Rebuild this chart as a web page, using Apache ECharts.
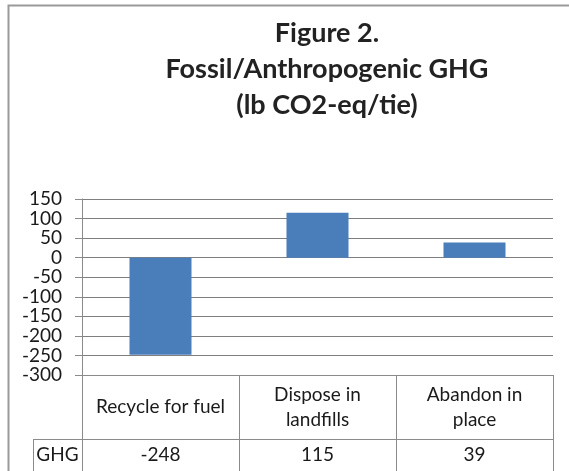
<!DOCTYPE html>
<html>
<head>
<meta charset="utf-8">
<script src="https://cdn.jsdelivr.net/npm/echarts@6/dist/echarts.min.js"></script>
<style>
html,body{margin:0;padding:0;background:#fff;}
#c{width:569px;height:471px;}
</style>
</head>
<body>
<div id="c"></div>
<script>
var titleLines = ['Figure 2.', 'Fossil/Anthropogenic GHG', '(lb CO2-eq/tie)'];
var categories = ['Recycle for fuel', 'Dispose in\nlandfills', 'Abandon in\nplace'];
var seriesName = 'GHG';
var values = [-248, 115, 39];
var yTicks = [-300, -250, -200, -150, -100, -50, 0, 50, 100, 150];

var FONT = 'Lato, "Open Sans", sans-serif';
var TXT = '#1a1a1a';
var LINE = '#8a8a8a';

var chart = echarts.init(document.getElementById('c'), null, {renderer: 'canvas'});
var gridLeft = 82, gridRight = 16, gridTop = 199, gridBottom = 96;
var W = 569, H = 471;
var axisBottomY = H - gridBottom;      // 375
var rowY = 439;

chart.setOption({
  backgroundColor: '#fff',
  animation: false,
  title: {
    text: titleLines.join('\n'),
    left: 322,
    top: 10,
    textAlign: 'center',
    textStyle: {fontFamily: FONT, fontSize: 27, fontWeight: 'bold', color: '#222', lineHeight: 36}
  },
  grid: {left: gridLeft, right: gridRight, top: gridTop, bottom: gridBottom, containLabel: false},
  xAxis: [{
    type: 'category',
    data: categories,
    position: 'bottom',
    axisLine: {onZero: false, show: true, lineStyle: {color: LINE, width: 1}},
    axisTick: {show: true, alignWithLabel: false, length: H - axisBottomY + 2, lineStyle: {color: LINE}},
    axisLabel: {fontFamily: FONT, fontSize: 19, color: TXT, margin: 32, verticalAlign: 'middle', lineHeight: 25, interval: 0},
    splitLine: {show: false}
  }, {
    type: 'category',
    data: values.map(function (v) { return String(v); }),
    position: 'bottom',
    axisLine: {show: false},
    axisTick: {show: false},
    axisLabel: {fontFamily: FONT, fontSize: 19, color: TXT, margin: 80, verticalAlign: 'middle', interval: 0},
    splitLine: {show: false}
  }],
  yAxis: {
    type: 'value',
    min: yTicks[0],
    max: yTicks[yTicks.length - 1],
    interval: 50,
    axisLine: {show: true, lineStyle: {color: LINE}},
    axisTick: {show: true, length: 7, lineStyle: {color: LINE}},
    axisLabel: {fontFamily: FONT, fontSize: 19, color: TXT, margin: 20},
    splitLine: {show: true, lineStyle: {color: '#7f7f7f', width: 1}}
  },
  series: [{
    name: seriesName,
    type: 'bar',
    data: values,
    barWidth: '39.5%',
    itemStyle: {color: '#4a7ebb'}
  }]
});

// table lines and row header for the data table below the plot
var x0 = chart.convertToPixel({xAxisIndex: 0}, 0);
var x2 = chart.convertToPixel({xAxisIndex: 0}, categories.length - 1);
var band = (x2 - x0) / (categories.length - 1);
var tableLeft = x0 - band / 2;
var tableRight = x2 + band / 2;
var headerLeft = 33;
chart.setOption({
  graphic: [
    {type: 'rect', shape: {x: 8.5, y: 5.5, width: 700, height: 600}, style: {fill: 'none', stroke: '#9a9a9a', lineWidth: 2}, silent: true},
    {type: 'line', shape: {x1: headerLeft, y1: rowY + 0.5, x2: tableRight, y2: rowY + 0.5}, style: {stroke: LINE, lineWidth: 1}},
    {type: 'line', shape: {x1: headerLeft + 0.5, y1: rowY, x2: headerLeft + 0.5, y2: H}, style: {stroke: LINE, lineWidth: 1}},
    {type: 'text', x: (headerLeft + tableLeft) / 2, y: (rowY + H) / 2,
     style: {text: seriesName, font: '19px ' + FONT, fill: TXT, align: 'center', verticalAlign: 'middle'}}
  ]
});
</script>
</body>
</html>
